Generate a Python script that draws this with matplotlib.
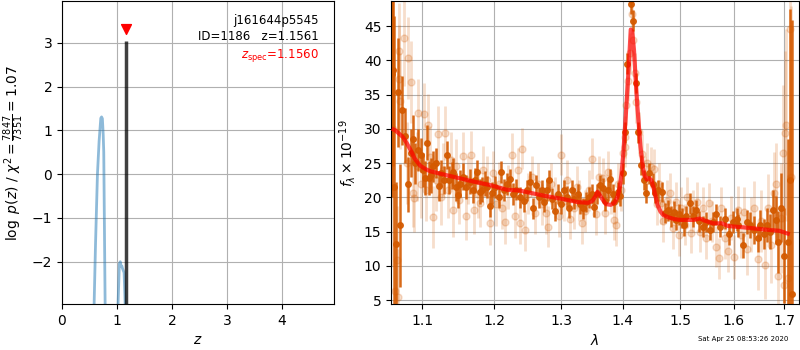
import numpy as np
import matplotlib
matplotlib.use("Agg")
import matplotlib.pyplot as plt

# --- p(z) panel ---
pz_z = [0.55, 0.584, 0.61, 0.645, 0.675, 0.706, 0.72, 0.735, 0.75, 0.76, 0.772, 0.785, 0.80]
pz_logp = [-4.0, -3.0, -1.6, 0.0, 0.75, 1.28, 1.31, 1.27, 0.9, 0.5, -1.2, -3.0, -4.0]
pz2_z = [1.00, 1.019, 1.035, 1.044, 1.06, 1.075, 1.09, 1.10, 1.115, 1.13, 1.145, 1.16]
pz2_logp = [-4.0, -3.0, -2.4, -2.05, -2.0, -2.1, -2.1, -2.15, -2.2, -2.25, -2.8, -3.5]
z_best = 1.1561
z_spec = 1.1560
logp_peak = 3.05

# --- spectrum panel ---
model_wave = [1.063, 1.065, 1.070, 1.075, 1.080, 1.085, 1.090, 1.0977, 1.105, 1.111, 1.130, 1.150,
              1.170, 1.193, 1.218, 1.236, 1.275, 1.300, 1.326, 1.343, 1.350, 1.355, 1.358, 1.362,
              1.367, 1.372, 1.380, 1.386, 1.391, 1.395, 1.398, 1.401, 1.404, 1.408, 1.411, 1.4135,
              1.416, 1.419, 1.422, 1.425, 1.430, 1.434, 1.437, 1.441, 1.445, 1.449, 1.453, 1.4596,
              1.465, 1.470, 1.478, 1.490, 1.500, 1.524, 1.536, 1.545, 1.560, 1.577, 1.589, 1.620,
              1.660, 1.690, 1.707]
model_flux = [29.9, 29.8, 29.3, 28.8, 27.9, 26.9, 25.7, 24.6, 24.1, 23.8, 23.3, 22.8,
              22.3, 21.8, 21.1, 21.0, 20.2, 19.8, 19.3, 19.2, 19.5, 20.2, 20.8, 20.3,
              19.6, 19.0, 18.9, 19.2, 20.0, 21.5, 23.5, 26.5, 30.5, 36.0, 40.5, 44.5,
              44.2, 41.5, 37.0, 33.0, 27.5, 24.5, 23.2, 22.6, 22.8, 22.5, 21.3, 18.9,
              17.9, 17.4, 17.1, 16.8, 16.7, 16.7, 16.9, 16.6, 16.2, 16.2, 15.8, 15.6,
              15.3, 15.1, 14.7]

bin_wave = [1.0610, 1.0625, 1.0640, 1.0660, 1.0690, 1.0710, 1.0740, 1.0780, 1.0820, 1.0850,
            1.0880, 1.0910, 1.0950, 1.0980, 1.1010, 1.1040, 1.1060, 1.1090, 1.1120, 1.1150,
            1.1190, 1.1220, 1.1250, 1.1290, 1.1330, 1.1360, 1.1400, 1.1420, 1.1460, 1.1490,
            1.1520, 1.1560, 1.1600, 1.1650, 1.1690, 1.1720, 1.1750, 1.1790, 1.1820, 1.1860,
            1.1900, 1.1930, 1.1970, 1.2010, 1.2060, 1.2100, 1.2140, 1.2180, 1.2220, 1.2270,
            1.2320, 1.2370, 1.2430, 1.2480, 1.2530, 1.2570, 1.2610, 1.2660, 1.2700, 1.2740,
            1.2780, 1.2820, 1.2860, 1.2900, 1.2950, 1.3000, 1.3050, 1.3090, 1.3130, 1.3170,
            1.3210, 1.3260, 1.3300, 1.3340, 1.3390, 1.3440, 1.3490, 1.3530, 1.3580, 1.3630,
            1.3670, 1.3710, 1.3750, 1.3790, 1.3830, 1.3860, 1.3913, 1.3960, 1.4000, 1.4038,
            1.4077, 1.4132, 1.4175, 1.4220, 1.4260, 1.4315, 1.4360, 1.4400, 1.4456, 1.4510,
            1.4550, 1.4600, 1.4670, 1.4730, 1.4780, 1.4830, 1.4880, 1.4930, 1.4980, 1.5030,
            1.5060, 1.5110, 1.5180, 1.5230, 1.5290, 1.5350, 1.5410, 1.5470, 1.5540, 1.5600,
            1.5660, 1.5740, 1.5820, 1.5910, 1.5980, 1.6050, 1.6080, 1.6170, 1.6250, 1.6320,
            1.6400, 1.6460, 1.6510, 1.6590, 1.6650, 1.6700, 1.6760, 1.6820, 1.6870, 1.6930,
            1.6990, 1.7080, 1.7120, 1.7160]
bin_flux = [38.0, 38.6, 21.5, 13.2, 35.3, 15.9, 32.7, 29.0, 21.9, 26.5,
            28.5, 25.0, 26.9, 26.2, 24.0, 22.8, 28.0, 22.8, 23.2, 24.5,
            25.0, 21.7, 23.5, 22.5, 26.2, 22.5, 23.2, 23.7, 21.5, 20.4,
            22.0, 23.0, 21.5, 22.3, 21.0, 22.5, 23.7, 20.8, 21.1, 22.0,
            21.5, 18.7, 20.6, 21.5, 20.0, 23.7, 21.0, 22.0, 22.6, 20.5,
            21.1, 20.0, 19.4, 21.0, 22.3, 18.4, 21.8, 20.0, 21.0, 19.3,
            21.0, 22.5, 19.8, 18.0, 20.5, 19.0, 21.0, 20.1, 18.5, 21.0,
            19.8, 20.5, 19.0, 18.4, 19.3, 20.0, 20.5, 18.6, 20.5, 21.8,
            21.3, 19.5, 21.0, 22.7, 20.5, 19.3, 20.8, 20.2, 23.5, 29.5,
            39.5, 48.2, 45.8, 36.7, 29.5, 24.7, 22.5, 20.6, 23.5, 22.0,
            20.6, 21.0, 20.8, 17.7, 18.1, 17.2, 17.9, 16.7, 17.5, 17.0,
            15.9, 17.2, 19.1, 17.2, 18.1, 16.5, 15.7, 16.4, 15.2, 16.4,
            17.5, 15.7, 16.9, 14.7, 16.4, 16.8, 15.9, 13.0, 16.4, 16.0,
            15.2, 14.0, 15.9, 14.7, 16.0, 15.0, 18.1, 16.7, 13.5, 18.5,
            11.5, 13.5, 22.5, 5.9]
bin_err = [18, 14, 25, 9, 8, 9, 5, 4, 4, 3.5,
           3.5, 3, 3, 2.5, 2.5, 2.5, 2.5, 2.5, 2.5, 2.2,
           2.2, 2.2, 2, 2, 2, 2, 2, 2, 2, 2,
           2, 2, 1.8, 1.8, 1.8, 1.8, 1.8, 1.8, 1.8, 1.8,
           1.6, 1.6, 1.6, 1.6, 1.6, 1.6, 1.6, 1.6, 1.6, 1.6,
           1.5, 1.5, 1.5, 1.5, 1.5, 1.5, 1.5, 1.5, 1.5, 1.5,
           1.5, 1.5, 1.5, 1.5, 1.5, 1.5, 1.5, 1.5, 1.5, 1.5,
           1.5, 1.5, 1.5, 1.5, 1.5, 1.5, 1.5, 1.5, 1.5, 1.5,
           1.5, 1.5, 1.5, 1.5, 1.5, 1.5, 1.5, 1.5, 1.5, 1.5,
           1.5, 1.5, 1.5, 1.5, 1.5, 1.5, 1.5, 1.5, 1.5, 1.5,
           1.5, 1.5, 1.5, 1.5, 1.5, 1.5, 1.5, 1.5, 1.5, 1.5,
           1.5, 1.5, 1.5, 1.5, 1.5, 1.5, 1.5, 1.5, 1.5, 1.5,
           1.5, 1.5, 1.5, 1.6, 1.6, 1.7, 1.7, 1.8, 1.8, 1.9,
           2.0, 2.0, 2.2, 2.2, 2.5, 2.5, 3, 3.5, 4.5, 5,
           7, 15, 25, 40]

raw_wave = [1.0620, 1.0650, 1.0670, 1.0690, 1.0695, 1.0704, 1.0710, 1.0770, 1.0800, 1.0820,
            1.0860, 1.0880, 1.0900, 1.0930, 1.0950, 1.0990, 1.1020, 1.1050, 1.1080, 1.1100,
            1.1150, 1.1180, 1.1210, 1.1250, 1.1280, 1.1310, 1.1350, 1.1390, 1.1420, 1.1460,
            1.1500, 1.1550, 1.1590, 1.1630, 1.1670, 1.1710, 1.1760, 1.1790, 1.1840, 1.1890,
            1.1930, 1.1980, 1.2020, 1.2070, 1.2110, 1.2160, 1.2200, 1.2260, 1.2300, 1.2350,
            1.2380, 1.2410, 1.2450, 1.2500, 1.2550, 1.2600, 1.2650, 1.2700, 1.2760, 1.2800,
            1.2850, 1.2900, 1.2960, 1.3000, 1.3050, 1.3100, 1.3140, 1.3200, 1.3250, 1.3290,
            1.3330, 1.3380, 1.3440, 1.3500, 1.3560, 1.3610, 1.3670, 1.3710, 1.3750, 1.3800,
            1.3850, 1.3890, 1.3920, 1.3970, 1.4000, 1.4030, 1.4040, 1.4060, 1.4090, 1.4120,
            1.4150, 1.4170, 1.4200, 1.4230, 1.4280, 1.4330, 1.4380, 1.4420, 1.4490, 1.4540,
            1.4580, 1.4620, 1.4650, 1.4700, 1.4760, 1.4820, 1.4870, 1.4920, 1.4970, 1.5020,
            1.5080, 1.5130, 1.5190, 1.5240, 1.5300, 1.5360, 1.5420, 1.5480, 1.5530, 1.5590,
            1.5650, 1.5710, 1.5760, 1.5830, 1.5890, 1.5950, 1.6010, 1.6070, 1.6130, 1.6190,
            1.6260, 1.6330, 1.6400, 1.6460, 1.6530, 1.6600, 1.6670, 1.6730, 1.6790, 1.6830,
            1.6880, 1.6930, 1.6980, 1.7000, 1.7020, 1.7040, 1.7080, 1.7110, 1.7140]
raw_flux = [30.0, 6.3, 10.8, 5.5, 37.2, 41.3, 34.1, 43.3, 25.0, 40.3,
            36.8, 20.6, 19.9, 24.5, 32.3, 22.0, 32.2, 21.0, 30.6, 25.9,
            17.1, 22.5, 29.3, 20.0, 24.0, 29.4, 21.0, 25.5, 18.2, 24.5,
            19.6, 26.0, 17.2, 22.5, 26.2, 18.1, 20.5, 19.1, 24.0, 22.5,
            16.2, 23.5, 19.0, 22.0, 18.5, 16.4, 21.5, 26.2, 17.2, 24.0,
            16.2, 27.1, 15.2, 20.5, 23.0, 17.7, 22.0, 19.0, 17.7, 15.7,
            22.0, 20.0, 17.2, 26.2, 19.5, 22.5, 16.9, 18.4, 21.5, 19.5,
            16.2, 18.0, 21.0, 25.6, 17.5, 23.0, 22.8, 17.7, 23.7, 20.5,
            16.7, 15.9, 22.0, 21.0, 26.4, 28.8, 27.4, 33.5, 37.0, 41.0,
            46.8, 42.9, 38.1, 33.9, 29.5, 26.3, 23.0, 25.0, 24.4, 24.1,
            19.0, 22.0, 19.1, 16.5, 19.5, 20.6, 15.5, 19.3, 14.5, 18.5,
            16.0, 20.0, 14.8, 18.0, 19.3, 15.0, 18.5, 14.0, 19.1, 16.5,
            12.8, 11.1, 18.5, 14.0, 12.1, 17.0, 11.3, 18.2, 14.5, 17.9,
            12.5, 16.0, 18.4, 11.0, 16.5, 10.1, 18.4, 13.0, 20.6, 22.0,
            8.5, 17.0, 26.4, 7.2, 29.4, 30.5, 8.2, 44.5, 23.0]
raw_err = [20, 8, 8, 7, 8, 7, 7, 7, 6, 6,
           6, 5, 5, 5, 5, 5, 4.5, 4.5, 4.5, 4.5,
           4.5, 4.5, 4, 4, 4, 4, 4, 4, 4, 4,
           3.5, 3.5, 3.5, 3.5, 3.5, 3.5, 3.5, 3.5, 3.5, 3.5,
           3.2, 3.2, 3.2, 3.2, 3.2, 3.2, 3.2, 3.2, 3.2, 3.2,
           3, 3, 3, 3, 3, 3, 3, 3, 3, 3,
           3, 3, 3, 3, 3, 3, 3, 3, 3, 3,
           3, 3, 3, 3, 3, 3, 3, 3, 3, 3,
           3, 3, 3, 3, 3, 3, 3, 3, 3, 3,
           3, 3, 3, 3, 3, 3, 3, 3, 3, 3,
           3, 3, 3, 3, 3, 3, 3, 3, 3, 3,
           3, 3, 3, 3, 3, 3, 3, 3, 3, 3,
           3, 3, 3, 3, 3, 3.2, 3.2, 3.4, 3.4, 3.6,
           3.8, 4, 4, 4.5, 4.5, 5, 5, 5.5, 6, 6,
           7, 8, 10, 10, 12, 14, 15, 20, 25]

xticks_wave = [1.1, 1.2, 1.3, 1.4, 1.5, 1.6, 1.7]
yticks_flux = [5, 10, 15, 20, 25, 30, 35, 40, 45]

spec_color = "#d45a00"

fig = plt.figure(figsize=(8, 3.5), dpi=100)

# left: p(z)
ax1 = fig.add_axes([0.0775, 0.131, 0.34, 0.865])
ax1.plot(pz_z, pz_logp, color="#1f77b4", alpha=0.5, lw=2)
ax1.plot(pz2_z, pz2_logp, color="#1f77b4", alpha=0.5, lw=2)
ax1.vlines(z_best, -5, logp_peak, color="k", alpha=0.75, lw=2.5)
ax1.scatter([z_spec], [logp_peak + 0.28], marker="v", color="red", s=50, zorder=5)
ax1.set_xlim(0, 4.95)
ax1.set_ylim(-2.97, 3.95)
ax1.set_xticks([0, 1, 2, 3, 4])
ax1.set_yticks([-2, -1, 0, 1, 2, 3])
ax1.grid(True)
ax1.set_axisbelow(True)
ax1.set_xlabel("$z$")
ax1.set_ylabel(r"$\log\ p(z)$ / $\chi^2=\frac{7847}{7351}=1.07$")
ax1.text(0.945, 0.96, "j161644p5545", transform=ax1.transAxes, ha="right", va="top", fontsize=8.5)
ax1.text(0.945, 0.905, "ID=1186   z=%.4f" % z_best, transform=ax1.transAxes, ha="right", va="top", fontsize=8.5)
ax1.text(0.945, 0.85, r"$z_\mathrm{spec}$=%.4f" % z_spec, transform=ax1.transAxes, ha="right", va="top",
         fontsize=8.5, color="red")

# right: spectrum
ax2 = fig.add_axes([0.4888, 0.131, 0.51, 0.865])
ax2.set_xscale("log")
ax2.errorbar(raw_wave, raw_flux, raw_err, color=spec_color, alpha=0.2, marker="o", ms=5,
             linestyle="None", elinewidth=2, zorder=1)
ax2.errorbar(bin_wave, bin_flux, bin_err, color=spec_color, alpha=0.9, marker="o", ms=4,
             linestyle="None", elinewidth=1.8, zorder=2)
ax2.plot(model_wave, model_flux, color="red", alpha=0.7, lw=3, zorder=3)
ax2.set_xlim(1.0598, 1.7302)
ax2.set_ylim(4.4, 48.6)
ax2.set_xticks(xticks_wave)
ax2.set_xticklabels([str(w) for w in xticks_wave])
ax2.xaxis.set_minor_locator(matplotlib.ticker.NullLocator())
ax2.set_yticks(yticks_flux)
ax2.grid(True)
ax2.set_axisbelow(True)
ax2.set_xlabel(r"$\lambda$")
ax2.set_ylabel(r"$f_\lambda\times 10^{-19}$")

fig.text(0.985, 0.03, "Sat Apr 25 08:53:26 2020", ha="right", va="center", fontsize=5)

fig.savefig("out.png", dpi=100)
